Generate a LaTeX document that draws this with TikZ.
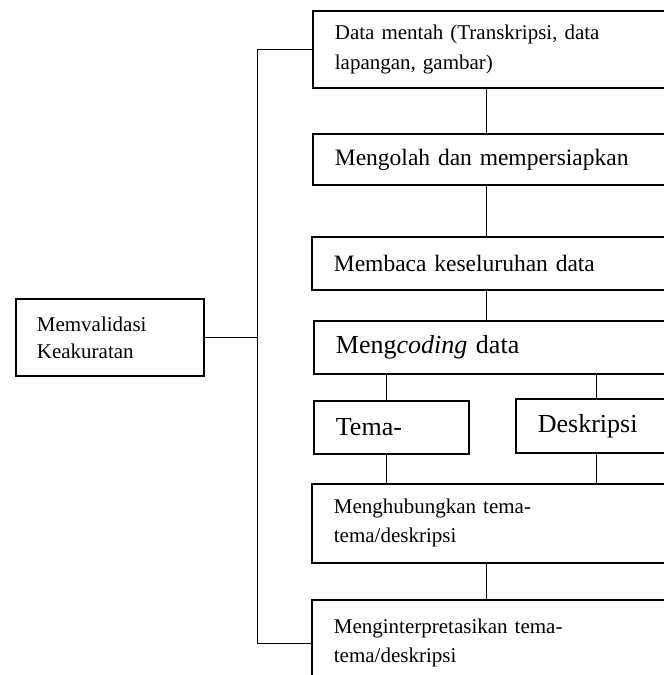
\documentclass[tikz,border=0pt]{standalone}
\usepackage{fontspec}
\setmainfont{Liberation Serif}
\usetikzlibrary{positioning}
\tikzset{
	stage/.style={draw=black,line width=1.8pt,anchor=north west,inner xsep=22pt,inner ysep=0pt,
		text width=420pt,align=left,font=\fontsize{21}{30}\selectfont},
	wire/.style={draw=black,line width=0.9pt},
}
\begin{document}
\begin{tikzpicture}[x=1pt,y=-1pt]
	\useasboundingbox (0,0) rectangle (664,675);
	\clip (0,0) rectangle (664,675);
	\coordinate (spine) at (486,0);
	\coordinate (colA) at (386,0);
	\coordinate (colB) at (596,0);
	\coordinate (brk) at (257,0);
	\node[stage,minimum height=77pt] (raw) at (312,10) {Data mentah (Transkripsi, data\\lapangan, gambar)};
	\node[stage,minimum height=51pt,font=\fontsize{23.5}{28}\selectfont] (prep) at (312,133) {Mengolah dan mempersiapkan};
	\node[stage,minimum height=53pt,font=\fontsize{23.5}{28}\selectfont] (read) at (311,236) {Membaca keseluruhan data};
	\node[stage,minimum height=53pt,font=\fontsize{26}{30}\selectfont] (code) at (313,320) {Meng\textit{coding} data};
	\node[stage,minimum height=53pt,text width=111pt,font=\fontsize{26}{30}\selectfont] (theme) at (313,400) {Tema-};
	\node[stage,minimum height=54pt,text width=300pt,font=\fontsize{26}{30}\selectfont] (desc) at (515,398) {Deskripsi};
	\node[stage,minimum height=79pt,font=\fontsize{21}{29}\selectfont] (relate) at (311,483) {Menghubungkan tema-\\tema/deskripsi};
	\node[stage,minimum height=87pt,font=\fontsize{21}{29}\selectfont] (interp) at (311,599) {Menginterpretasikan tema-\\tema/deskripsi};
	\node[stage,minimum height=77pt,text width=146pt,inner xsep=21pt,font=\fontsize{21}{27}\selectfont] (valid) at (15,298) {Memvalidasi\\Keakuratan};
	\foreach \a/\b in {raw/prep,prep/read,read/code,relate/interp}
		\draw[wire] (\a.south -| spine) -- (\b.north -| spine);
	\draw[wire] (code.south -| colA) -- (theme.north -| colA);
	\draw[wire] (code.south -| colB) -- (desc.north -| colB);
	\draw[wire] (theme.south -| colA) -- (relate.north -| colA);
	\draw[wire] (desc.south -| colB) -- (relate.north -| colB);
	\draw[wire] (raw.west) -- (raw.west -| brk) -- (interp.west -| brk) -- (interp.west);
	\draw[wire] (valid.east) -- (valid.east -| brk);
\end{tikzpicture}
\end{document}
